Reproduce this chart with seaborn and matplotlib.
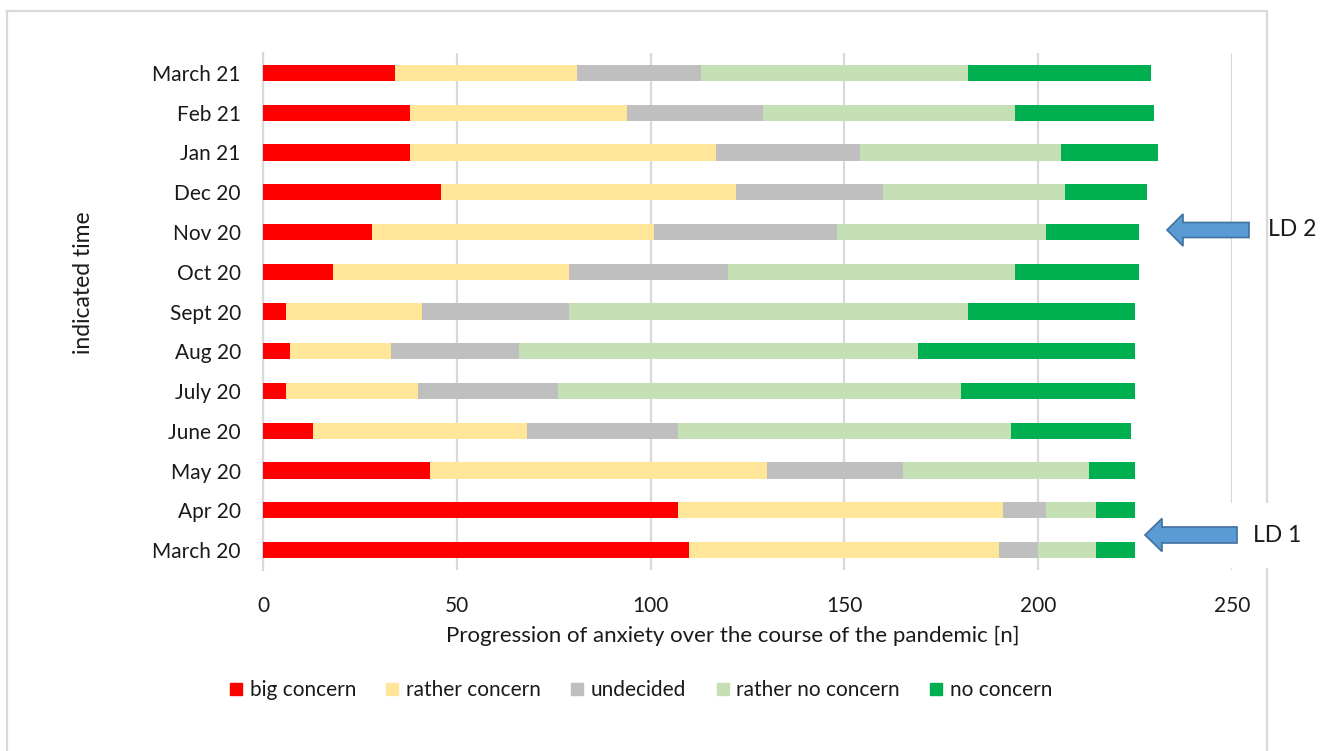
import matplotlib
matplotlib.use("Agg")
import matplotlib.pyplot as plt
from matplotlib.patches import Rectangle, FancyArrow
from matplotlib.lines import Line2D
import numpy as np
import pandas as pd
import seaborn as sns

# Survey months, chronological
months = ["March 20", "Apr 20", "May 20", "June 20", "July 20", "Aug 20",
          "Sept 20", "Oct 20", "Nov 20", "Dec 20", "Jan 21", "Feb 21", "March 21"]

# Answer counts per month for each concern level
big_concern       = [110, 107, 43, 13, 6, 7, 6, 18, 28, 46, 38, 38, 34]
rather_concern    = [80, 84, 87, 55, 34, 26, 35, 61, 73, 76, 79, 56, 47]
undecided         = [10, 11, 35, 39, 36, 33, 38, 41, 47, 38, 37, 35, 32]
rather_no_concern = [15, 13, 48, 86, 104, 103, 103, 74, 54, 47, 52, 65, 69]
no_concern        = [10, 10, 12, 31, 45, 56, 43, 32, 24, 21, 25, 36, 47]

levels = ["big concern", "rather concern", "undecided", "rather no concern", "no concern"]
colors = ["#FF0000", "#FFE699", "#BFBFBF", "#C5E0B4", "#00B050"]
x_ticks = [0, 50, 100, 150, 200, 250]

sns.set_theme(style="white")
plt.rcParams["font.family"] = ["Lato", "DejaVu Sans"]
text_color = "#1a1a1a"
grid_color = "#D9D9D9"
fs = 15

W, H = 1328, 751
fig = plt.figure(figsize=(W / 100, H / 100), dpi=100)
ax = fig.add_axes([263 / W, 1 - 570 / H, (1232 - 263) / W, (570 - 53) / H])

df = pd.DataFrame({"month": months, "big concern": big_concern,
                   "rather concern": rather_concern, "undecided": undecided,
                   "rather no concern": rather_no_concern, "no concern": no_concern})
cum = df[levels].cumsum(axis=1)
cum["month"] = df["month"]
order = months[::-1]  # latest month on top

# Stacked bars: draw cumulative totals from the outermost segment inwards
for lvl, col in reversed(list(zip(levels, colors))):
    sns.barplot(data=cum, x=lvl, y="month", order=order, orient="h",
                color=col, saturation=1, width=0.41, linewidth=0, ax=ax, zorder=3)

ax.set_xlim(0, 250)
ax.set_ylim(12.5, -0.5)
ax.set_xticks(x_ticks)
ax.set_xticklabels([str(t) for t in x_ticks])
ax.set_xlabel("")
ax.set_ylabel("")
ax.xaxis.grid(True, color=grid_color, linewidth=1.6, zorder=0)
ax.yaxis.grid(False)
ax.set_axisbelow(True)
for s in ["top", "right", "bottom"]:
    ax.spines[s].set_visible(False)
ax.spines["left"].set_color(grid_color)
ax.spines["left"].set_linewidth(1.6)
ax.tick_params(axis="x", length=0, pad=19, labelsize=fs, labelcolor=text_color)
ax.tick_params(axis="y", length=0, pad=16, labelsize=fs, labelcolor=text_color)

# Axis titles
fig.text(83 / W, 1 - 283 / H, "indicated time", rotation=90, ha="center",
         va="center", fontsize=16.5, color=text_color)
fig.text(733 / W, 1 - 636 / H,
         "Progression of anxiety over the course of the pandemic [n]",
         ha="center", va="center", fontsize=16, color=text_color)

# Legend
handles = [Line2D([0], [0], marker="s", linestyle="none", markersize=9,
                  markerfacecolor=c, markeredgecolor=c) for c in colors]
fig.legend(handles, levels, loc="center", bbox_to_anchor=(641 / W, 1 - 690 / H),
           ncol=5, frameon=False, fontsize=fs, handlelength=0.6,
           handletextpad=0.35, columnspacing=1.45, labelcolor=text_color)

# Outer chart frame
fig.patches.append(Rectangle((7 / W, -0.05), (1267 - 7) / W, (H - 11) / H + 0.05,
                             transform=fig.transFigure, fill=False,
                             edgecolor=grid_color, linewidth=1.6, zorder=1))

# Lockdown markers
pix = fig.dpi_scale_trans


def px(x, y):
    return x / 100, (H - y) / 100


# white text box behind the LD 1 marker
bx, by = px(1139, 568)
fig.patches.append(Rectangle((bx, by), 180 / 100, 65 / 100, transform=pix,
                             facecolor="white", edgecolor="none", zorder=5))

for tail_x, tip_x, y, shaft, head_w, head_l, label, tx in [
        (1249, 1167, 230, 15, 32, 16, "LD 2", 1268),
        (1237, 1145, 535, 16, 33, 17, "LD 1", 1253)]:
    x0, y0 = px(tail_x, y)
    arr = FancyArrow(x0, y0, (tip_x - tail_x) / 100, 0, width=shaft / 100,
                     head_width=head_w / 100, head_length=head_l / 100,
                     length_includes_head=True, transform=pix,
                     facecolor="#5B9BD5", edgecolor="#41719C", linewidth=1.2,
                     zorder=6)
    fig.patches.append(arr)
    fig.text(tx / W, 1 - y / H, label, ha="left", va="center", fontsize=16.5,
             color=text_color, zorder=7)

fig.savefig("out.png", dpi=100, facecolor="white")
